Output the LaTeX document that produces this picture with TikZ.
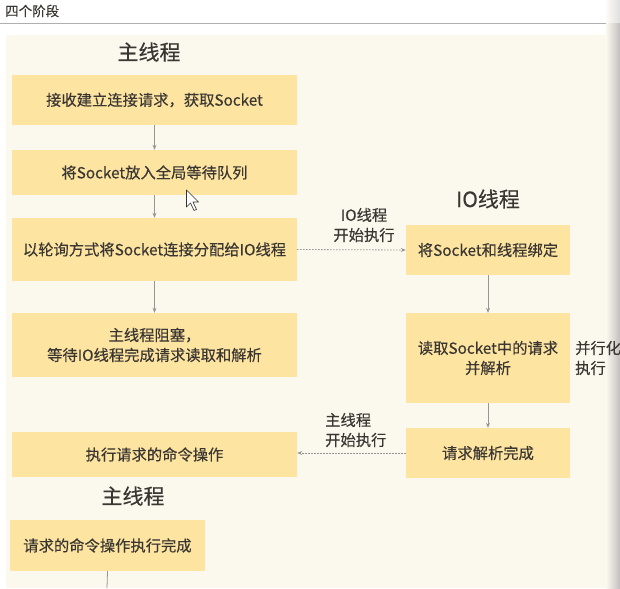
\documentclass[tikz,border=0pt]{standalone}
\usepackage{fontspec}
\setmainfont{Noto Sans CJK SC}[FakeBold=0.25]
\usetikzlibrary{arrows.meta}
\definecolor{boxfill}{RGB}{253,228,160}
\definecolor{cream}{RGB}{251,248,238}
\definecolor{txt}{RGB}{58,54,50}
\definecolor{arrowgray}{RGB}{150,150,150}
\definecolor{rulegray}{RGB}{175,175,175}
\begin{document}
\begin{tikzpicture}[x=1pt,y=-1pt,
  box/.style={fill=boxfill, draw=none, inner sep=0pt, text=txt, font=\fontsize{15.3}{20}\selectfont, align=center},
  title/.style={text=txt, font=\fontsize{21}{24}\selectfont, inner sep=0pt},
  lbl/.style={text=txt, font=\fontsize{15.3}{20}\selectfont, inner sep=0pt},
  flow/.style={draw=arrowgray, line width=0.8pt, -{Stealth[length=5pt,width=4pt]}},
  dotflow/.style={draw=arrowgray, line width=0.8pt, dash pattern=on 1.5pt off 1.5pt, -{Stealth[length=5pt,width=4pt]}}]
\useasboundingbox (0,0) rectangle (620,588);
\fill[white] (0,0) rectangle (620,588);
% header
\node[text=txt, font=\fontsize{13.5}{15}\selectfont, anchor=west, inner sep=0pt] (hdr) at (5,11) {四个阶段};
\draw[rulegray, line width=1pt] (0,23.5) -- (620,23.5);
% cream background
\fill[cream] (6,35) rectangle (620,588);
\shade[left color=white!0!cream, right color=black!25] (606,0) rectangle (620,588);
\fill[white, opacity=0.5] (606,0) rectangle (620,23);
% titles
\node[title] (t1) at (149,52) {主线程};
\node[title] (t2) at (488,199) {IO线程};
\node[title] (t3) at (133,496) {主线程};
% main thread boxes
\node[box, minimum width=285pt, minimum height=50pt] (b1) at (154.5,100) {接收建立连接请求，获取Socket};
\node[box, minimum width=285pt, minimum height=45pt] (b2) at (154.5,172.5) {将Socket放入全局等待队列};
\node[box, minimum width=285pt, minimum height=63pt] (b3) at (154.5,249.5) {以轮询方式将Socket连接分配给IO线程};
\node[box, minimum width=285pt, minimum height=64pt] (b4) at (154.5,345) {主线程阻塞，\\等待IO线程完成请求读取和解析};
\node[box, minimum width=285pt, minimum height=45pt] (b5) at (154.5,454.5) {执行请求的命令操作};
\node[box, minimum width=195pt, minimum height=51pt] (b6) at (107.5,545.5) {请求的命令操作执行完成};
% IO thread boxes
\node[box, minimum width=164pt, minimum height=50pt] (i1) at (488,250) {将Socket和线程绑定};
\node[box, minimum width=164pt, minimum height=90pt] (i2) at (488,358) {读取Socket中的请求\\并解析};
\node[box, minimum width=164pt, minimum height=50pt] (i3) at (488,453) {请求解析完成};
% labels
\node[lbl, align=center] (l1) at (364,225) {IO线程\\开始执行};
\node[lbl, align=left, anchor=west] (l2) at (325,430) {主线程\\开始执行};
\node[lbl, align=left, anchor=west] (l3) at (575,358) {并行化\\执行};
% connectors
\draw[flow] (b1.south) -- (b2.north);
\draw[flow] (b2.south) -- (b3.north);
\draw[flow] (b3.south) -- (b4.north);
\draw[flow] (i1.south) -- (i2.north);
\draw[flow] (i2.south) -- (i3.north);
\draw[dotflow] (b3.east) -- (i1.west);
\draw[dotflow] (i3.west) -- (b5.east |- i3.west);
\coordinate (bend) at (107,588);
\draw[arrowgray, line width=0.8pt] (b6.south) -- (bend);
% mouse cursor
\draw[fill=white, draw=black!80, line width=0.6pt, line join=round]
  (186.5,190) -- (186.5,207) -- (190.5,203) -- (194,210.5) -- (196.5,209.5) -- (193,202) -- (198.5,202) -- cycle;
\end{tikzpicture}
\end{document}
